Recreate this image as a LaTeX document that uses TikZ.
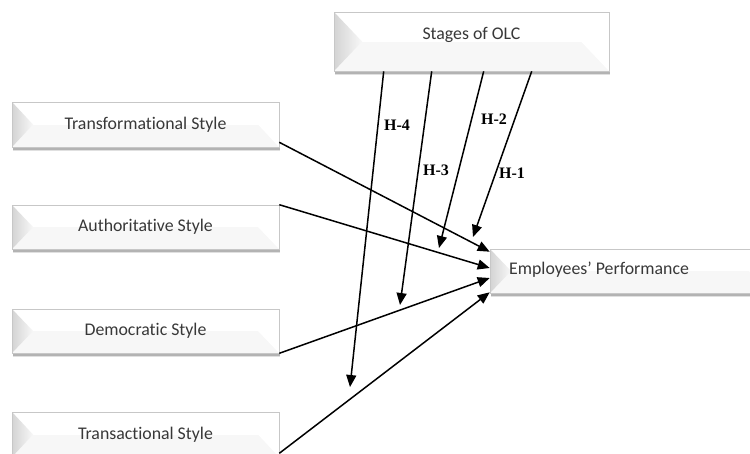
\documentclass[tikz,border=0pt]{standalone}
\usepackage{fontspec}
\setmainfont{Carlito}[Ligatures={NoCommon}]
\newfontfamily\hfont{Liberation Serif}
\usetikzlibrary{arrows.meta,shadows,calc}

\begin{document}
\begin{tikzpicture}[x=1pt,y=-1pt,
  bevelbox/.style={draw=black!22, line width=0.6pt, fill=white, inner sep=0pt,
    text=black!78, font=\fontsize{17.8}{20}\selectfont,
    drop shadow={shadow xshift=0.5pt, shadow yshift=-4pt, opacity=0.12, fill=black},
    drop shadow={shadow xshift=0.5pt, shadow yshift=-2.5pt, opacity=0.2, fill=black},
    path picture={
      \fill[black!3] (path picture bounding box.west) -- (path picture bounding box.east)
        -- (path picture bounding box.south east) -- (path picture bounding box.south west) -- cycle;
      \fill[white] ([xshift=-#1]path picture bounding box.east) -- (path picture bounding box.east)
        -- (path picture bounding box.south east) -- cycle;
      \shade[left color=black!17, right color=black!3] (path picture bounding box.north west)
        -- ([xshift=#1]path picture bounding box.west) -- (path picture bounding box.south west) -- cycle;
    }},
  bevelbox/.default=21pt,
  boxtext/.style={text=black!78, font=\fontsize{17.8}{20}\selectfont, inner sep=0pt},
  conn/.style={line width=1.5pt, -{Triangle[length=12pt,width=10pt]}},
  hlabel/.style={font=\hfont\bfseries\fontsize{16}{18}\selectfont, inner sep=0pt}
]
\clip (0,0) rectangle (750,453);
\fill[white] (0,0) rectangle (750,453);

% boxes
\node[bevelbox=28pt, minimum width=275pt, minimum height=59pt] (olc) at (471.5,41.5) {};
\node[boxtext] (olct) at (471.5,35) {Stages of OLC};

\node[bevelbox, minimum width=267pt, minimum height=45pt] (tf) at (145.5,124.5) {Transformational Style};
\node[bevelbox, minimum width=267pt, minimum height=44pt] (au) at (145.5,227) {Authoritative Style};
\node[bevelbox, minimum width=267pt, minimum height=44pt] (de) at (145.5,331) {Democratic Style};
\node[bevelbox, minimum width=267pt, minimum height=45pt] (tr) at (145.5,434.5) {Transactional Style};

\node[bevelbox, minimum width=280pt, minimum height=44pt] (ep) at (630,271) {};
\node[boxtext, anchor=west] (ept) at (509,270) {Employees' Performance};

% free ends of moderating arrows
\coordinate (h1end) at (473,237);
\coordinate (h2end) at (439,248);
\coordinate (h3end) at (400,305);
\coordinate (h4end) at (350,387);

% direct effects
\draw[conn] ([yshift=5pt]tf.south east) -- ([yshift=-3pt]ep.north west);
\draw[conn] (au.north east) -- ([yshift=3pt]ep.west);
\draw[conn] (de.south east) -- ([yshift=-7pt]ep.west);
\draw[conn] ([yshift=4pt]tr.south east) -- ([yshift=1pt]ep.south west);

% moderating effects
\draw[conn] ($(olc.south west)+(198,0)$) -- (h1end);
\draw[conn] ($(olc.south west)+(150,0)$) -- (h2end);
\draw[conn] ($(olc.south west)+(98,0)$) -- (h3end);
\draw[conn] ($(olc.south west)+(50,0)$) -- (h4end);

% labels
\node[hlabel] (l1) at (512,173) {H-1};
\node[hlabel] (l2) at (494,119) {H-2};
\node[hlabel] (l3) at (436,170) {H-3};
\node[hlabel] (l4) at (397,125) {H-4};
\end{tikzpicture}
\end{document}
